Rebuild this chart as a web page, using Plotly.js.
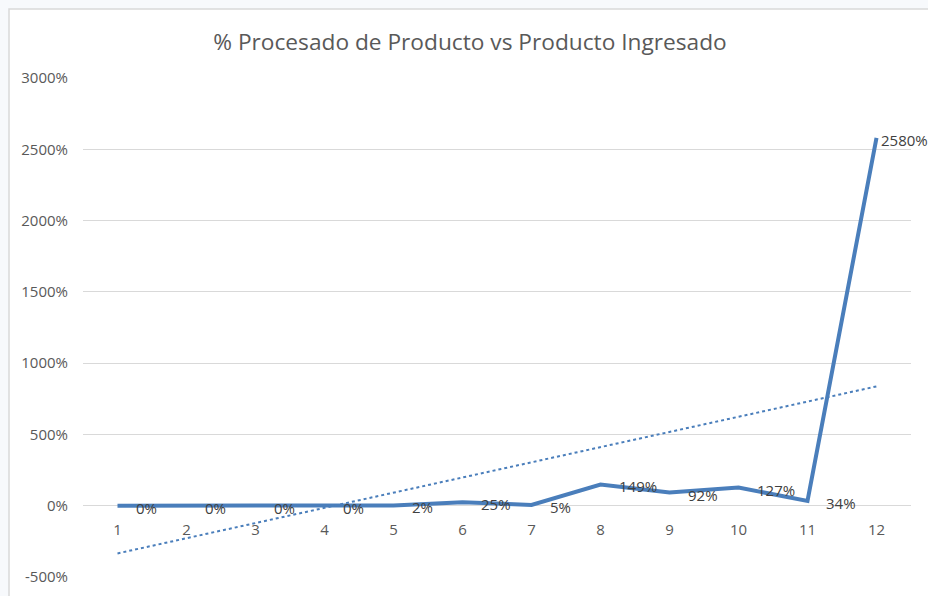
<!DOCTYPE html>
<html>
<head>
<meta charset="utf-8">
<script src="https://cdn.plot.ly/plotly-3.0.1.min.js"></script>
<style>
  html, body { margin: 0; padding: 0; background: #f7f9fc; }
  #chart { width: 928px; height: 596px; }
</style>
</head>
<body>
<div id="chart"></div>
<script>
// ---- data ----
const categories = ['1','2','3','4','5','6','7','8','9','10','11','12'];
const pctValues  = [0, 0, 0, 0, 2, 25, 5, 149, 92, 127, 34, 2580];
const yTickVals  = [-500, 0, 500, 1000, 1500, 2000, 2500, 3000];
const chartTitle = '% Procesado de Producto vs Producto Ingresado';

// linear trendline (least squares over the series, like the spreadsheet trendline)
const n = pctValues.length;
const xs = pctValues.map((_, i) => i + 1);
const mx = xs.reduce((a, b) => a + b, 0) / n;
const my = pctValues.reduce((a, b) => a + b, 0) / n;
let sxy = 0, sxx = 0;
for (let i = 0; i < n; i++) { sxy += (xs[i] - mx) * (pctValues[i] - my); sxx += (xs[i] - mx) ** 2; }
const slope = sxy / sxx, intercept = my - slope * mx;
const trend = xs.map(x => intercept + slope * x);

const W = 928, H = 596;
const M = { l: 83, r: 17, t: 78, b: 19 };
const plotW = W - M.l - M.r, plotH = H - M.t - M.b;
const yMin = -500, yMax = 3000;
const px = v => (v - M.l) / plotW;
const py = v => (H - M.b - v) / plotH;

const lineColor = '#4a7ebb';
const font = "'Open Sans', 'Noto Sans', sans-serif";

const labelFont = { family: font, size: 15, color: '#404040' };
const labelW = t => t.length * 9.8;
const annotations = pctValues.map((v, i) => {
  const cx = M.l + (i + 0.5) * plotW / n;
  const text = v + '%';
  let shift = 16;
  const over = cx + shift + labelW(text) - W;
  if (over > 0) shift = Math.max(2, shift - over);
  return {
    x: i, y: v, xref: 'x', yref: 'y',
    text: text, showarrow: false, xanchor: 'left', yanchor: 'middle',
    xshift: shift, yshift: -2, font: labelFont
  };
});

const traces = [
  {
    x: categories, y: pctValues, type: 'scatter', mode: 'lines',
    line: { color: lineColor, width: 4 }, hoverinfo: 'skip', name: 'serie'
  },
  {
    x: categories, y: trend, type: 'scatter', mode: 'lines',
    line: { color: lineColor, width: 2, dash: 'dot' }, hoverinfo: 'skip', name: 'tendencia'
  }
];

const layout = {
  width: W, height: H,
  margin: M,
  paper_bgcolor: '#f7f9fc',
  plot_bgcolor: 'rgba(0,0,0,0)',
  showlegend: false,
  title: {
    text: chartTitle,
    font: { family: font, size: 22.7, color: '#595959' },
    x: px(470), xanchor: 'center', xref: 'paper',
    y: 1 - 42 / H, yanchor: 'middle', yref: 'container'
  },
  xaxis: {
    type: 'category',
    range: [-0.5, n - 0.5],
    anchor: 'free',
    position: (0 - yMin) / (yMax - yMin),
    showgrid: false, showline: false, zeroline: false,
    ticks: '', ticklabelstandoff: 13,
    tickfont: { family: font, size: 15, color: '#595959' }
  },
  yaxis: {
    range: [yMin, yMax],
    tickvals: yTickVals,
    ticktext: yTickVals.map(v => v + '%'),
    showgrid: true, gridcolor: '#d9d9d9', gridwidth: 1,
    zeroline: false, showline: false, ticks: '',
    ticklabelstandoff: 14,
    tickfont: { family: font, size: 15, color: '#595959' }
  },
  shapes: [{
    type: 'rect', layer: 'below', xref: 'paper', yref: 'paper',
    x0: px(9), x1: px(950), y0: py(9), y1: py(620),
    line: { color: '#d9d9d9', width: 1.5 }, fillcolor: '#ffffff'
  }],
  annotations: annotations
};

Plotly.newPlot('chart', traces, layout, { displayModeBar: false, staticPlot: true });
</script>
</body>
</html>
